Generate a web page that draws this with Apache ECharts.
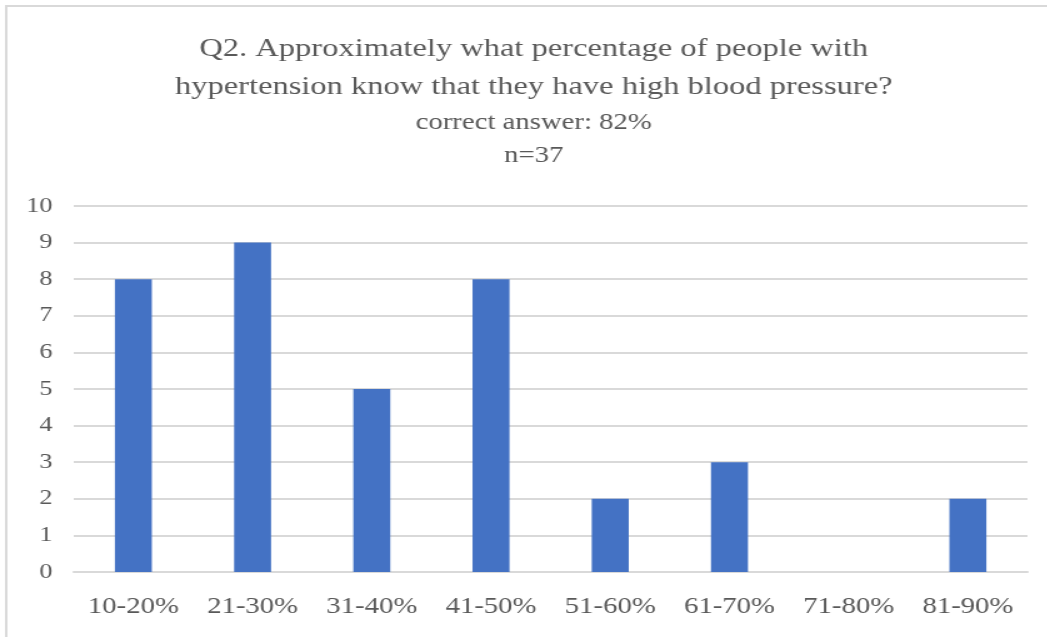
<!DOCTYPE html>
<html>
<head>
<meta charset="utf-8">
<script src="https://cdn.jsdelivr.net/npm/echarts@6/dist/echarts.min.js"></script>
<style>
  html, body { margin: 0; padding: 0; background: #ffffff; overflow: hidden; }
  /* the chart is laid out narrower and widened to fill the page */
  #chart { width: 838px; height: 637px; transform: scaleX(1.25); transform-origin: 0 0; }
</style>
</head>
<body>
<div id="chart"></div>
<script>
// Answer ranges and how many respondents picked each
const categories = ['10-20%', '21-30%', '31-40%', '41-50%', '51-60%', '61-70%', '71-80%', '81-90%'];
const counts = [8, 9, 5, 8, 2, 3, 0, 2];
const titleLines = [
  'Q2. Approximately what percentage of people with',
  'hypertension know that they have high blood pressure?'
];
const subtitleLines = ['correct answer: 82%', 'n=37'];

const FONT = '"Liberation Serif", "Times New Roman", serif';
const TEXT = '#595959';
const GRID = '#d9d9d9';

const chart = echarts.init(document.getElementById('chart'));
chart.setOption({
  backgroundColor: '#ffffff',
  animation: false,
  title: {
    text: titleLines.join('\n'),
    subtext: subtitleLines.join('\n'),
    left: 422,
    textAlign: 'center',
    top: 25,
    itemGap: 0,
    textStyle: { fontFamily: FONT, fontSize: 26, fontWeight: 'normal', color: TEXT, lineHeight: 38 },
    subtextStyle: { fontFamily: FONT, fontSize: 23, color: TEXT, lineHeight: 33 }
  },
  graphic: [
    { type: 'line', shape: { x1: 4, y1: 6, x2: 838, y2: 6 }, style: { stroke: GRID, lineWidth: 2 } },
    { type: 'line', shape: { x1: 5, y1: 5, x2: 5, y2: 637 }, style: { stroke: GRID, lineWidth: 2 } }
  ],
  grid: { left: 59, right: 16, top: 206, bottom: 65, containLabel: false },
  xAxis: {
    type: 'category',
    data: categories,
    axisLine: { show: true, lineStyle: { color: GRID, width: 2 } },
    axisTick: { show: false },
    axisLabel: { fontFamily: FONT, fontSize: 23, color: TEXT, margin: 23 }
  },
  yAxis: {
    type: 'value',
    min: 0,
    max: 10,
    interval: 1,
    axisLine: { show: false },
    axisTick: { show: false },
    splitLine: { lineStyle: { color: GRID, width: 2 } },
    axisLabel: { fontFamily: FONT, fontSize: 21, color: TEXT, margin: 17 }
  },
  series: [{
    type: 'bar',
    data: counts,
    barWidth: '31%',
    itemStyle: { color: '#4472C4' }
  }]
});
</script>
</body>
</html>
